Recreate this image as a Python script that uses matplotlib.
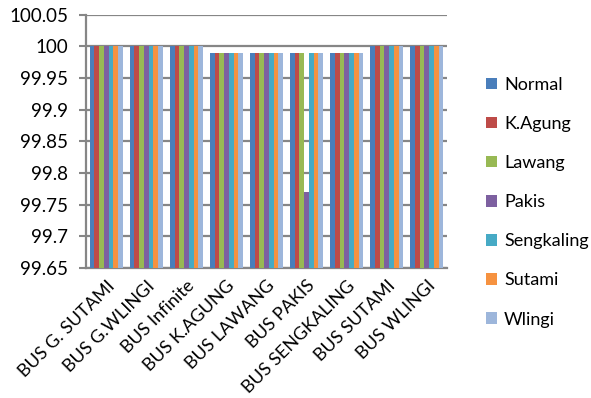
import numpy as np
import matplotlib.pyplot as plt

plt.rcParams['font.family'] = ['Lato', 'DejaVu Sans']

categories = ['BUS G. SUTAMI', 'BUS G.WLINGI', 'BUS Infinite', 'BUS K.AGUNG',
              'BUS LAWANG', 'BUS PAKIS', 'BUS SENGKALING', 'BUS SUTAMI', 'BUS WLINGI']
series_names = ['Normal', 'K.Agung', 'Lawang', 'Pakis', 'Sengkaling', 'Sutami', 'Wlingi']

normal     = [100, 100, 100, 99.99, 99.99, 99.99, 99.99, 100, 100]
k_agung    = [100, 100, 100, 99.99, 99.99, 99.99, 99.99, 100, 100]
lawang     = [100, 100, 100, 99.99, 99.99, 99.99, 99.99, 100, 100]
pakis      = [100, 100, 100, 99.99, 99.99, 99.77, 99.99, 100, 100]
sengkaling = [100, 100, 100, 99.99, 99.99, 99.99, 99.99, 100, 100]
sutami     = [100, 100, 100, 99.99, 99.99, 99.99, 99.99, 100, 100]
wlingi     = [100, 100, 100, 99.99, 99.99, 99.99, 99.99, 100, 100]

all_series = [normal, k_agung, lawang, pakis, sengkaling, sutami, wlingi]
colors = ['#4A7EBB', '#BE4B48', '#98B954', '#7D60A0', '#46AAC5', '#F69240', '#9DB6DB']

fig = plt.figure(figsize=(5.91, 3.98), dpi=100)
ax = fig.add_axes([0.146, 0.327, 0.61, 0.636])

x = np.arange(len(categories))
group_w = 0.83
bar_w = group_w / len(all_series)
base = 99.65
for i, (vals, name, c) in enumerate(zip(all_series, series_names, colors)):
    offs = -group_w / 2 + bar_w * (i + 0.5)
    heights = np.array(vals) - base
    ax.bar(x + offs, heights, bar_w, bottom=base, color=c, label=name,
           linewidth=0, zorder=3)

ax.set_xlim(-0.5, len(categories) - 0.5)
ax.set_ylim(99.65, 100.05)
yt = np.arange(99.65, 100.051, 0.05)
ax.set_yticks(yt)
ax.set_yticklabels(['99.65', '99.7', '99.75', '99.8', '99.85', '99.9', '99.95', '100', '100.05'],
                   fontsize=13.5)
ax.yaxis.grid(True, color='#868686', linewidth=1.6, zorder=0)
ax.set_axisbelow(True)

ax.set_xticks(x)
ax.set_xticklabels(categories, rotation=45, ha='right', rotation_mode='anchor',
                   fontsize=13)
ax.tick_params(axis='x', length=0, pad=7)
ax.tick_params(axis='y', length=5, width=1.5, color='#868686', pad=8)

for s in ['top', 'right']:
    ax.spines[s].set_visible(False)
for s in ['left', 'bottom']:
    ax.spines[s].set_color('#868686')
    ax.spines[s].set_linewidth(1.6)

fig.legend(loc='center left', bbox_to_anchor=(0.795, 0.492), frameon=False,
           fontsize=13, handlelength=0.6, handleheight=0.6, handletextpad=0.4,
           labelspacing=1.28)

fig.savefig('out.png', dpi=100)
